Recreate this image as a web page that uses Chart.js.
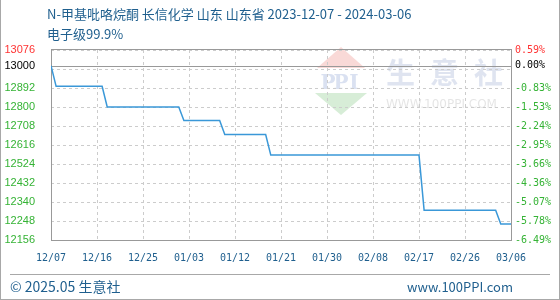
<!DOCTYPE html>
<html>
<head>
<meta charset="utf-8">
<script src="https://cdn.jsdelivr.net/npm/chart.js@4/dist/chart.umd.min.js"></script>
<style>
  html, body { margin: 0; padding: 0; background: #fff; }
  #wrap {
    position: relative; width: 560px; height: 300px; box-sizing: border-box;
    border-left: 1px solid #a8a8a8; border-right: 1px solid #a8a8a8; border-bottom: 1px solid #a8a8a8;
    overflow: hidden; font-family: "Noto Sans CJK SC", "Noto Sans", sans-serif;
  }
  #chart { position: absolute; left: 0; top: 0; }
  .txt { position: absolute; color: #1f5f8e; white-space: nowrap; line-height: 1; }
  #title1 { left: 46px; top: 7px; font-size: 13px; }
  #title2 { left: 46px; top: 27px; font-size: 13px; }
  #rule { position: absolute; left: 9px; right: 9px; top: 274px; height: 0; border-top: 1px solid #a8a8a8; }
  #foot1 { left: 9px; top: 279px; font-size: 14px; }
  #foot2 { right: 46px; top: 280px; font-size: 13px; }
</style>
</head>
<body>
<div id="wrap">
  <canvas id="chart" width="560" height="300"></canvas>
  <div class="txt" id="title1">N-甲基吡咯烷酮 长信化学 山东 山东省 2023-12-07 - 2024-03-06</div>
  <div class="txt" id="title2">电子级99.9%</div>
  <div id="rule"></div>
  <div class="txt" id="foot1">© 2025.05 生意社</div>
  <div class="txt" id="foot2">www.100PPI.com</div>
</div>
<script>
// Price change points (yuan/ton); the price holds flat between them.
const dates = ['2023-12-07', '2023-12-08', '2023-12-17', '2023-12-18', '2024-01-01', '2024-01-02',
               '2024-01-09', '2024-01-10', '2024-01-18', '2024-01-19', '2024-02-17', '2024-02-18',
               '2024-03-03', '2024-03-04', '2024-03-06'];
const prices = [13000, 12900, 12900, 12800, 12800, 12735, 12735, 12667, 12667, 12567, 12567, 12300,
                12300, 12233, 12233];

// X axis ticks (day offsets from the first date) and their labels
const xTickDays = [0, 9, 18, 27, 36, 45, 54, 63, 72, 81, 90];
const xTickLabels = ['12/07', '12/16', '12/25', '01/03', '01/12', '01/21', '01/30', '02/08', '02/17', '02/26', '03/06'];

// Y axis ticks, bottom to top; the 13000 base price gets its own tick
const yTickValues = [12156, 12248, 12340, 12432, 12524, 12616, 12708, 12800, 12892, 13000, 13076];
const yGridValues = [12156, 12248, 12340, 12432, 12524, 12616, 12708, 12800, 12892, 12984, 13076];
const leftTickLabels = ['12156', '12248', '12340', '12432', '12524', '12616', '12708', '12800', '12892', '13000', '13076'];
const rightTickLabels = ['-6.49%', '-5.78%', '-5.07%', '-4.36%', '-3.66%', '-2.95%', '-2.24%', '-1.53%', '-0.83%', '0.00%', '0.59%'];
const basePrice = 13000;

const DAY = 86400000;
const start = Date.parse(dates[0]);
const points = dates.map((d, i) => ({ x: (Date.parse(d) - start) / DAY, y: prices[i] }));

const yMin = yGridValues[0];
const yMax = yGridValues[yGridValues.length - 1];
const allY = Array.from(new Set(yGridValues.concat(yTickValues))).sort((a, b) => a - b);

const GREEN = '#35b335', RED = '#ff3333', BLACK = '#000000';
const tickColor = v => v > basePrice ? RED : (v === basePrice ? BLACK : GREEN);
const labelFor = (labels, v) => { const i = yTickValues.indexOf(v); return i < 0 ? '' : labels[i]; };

// Frame, base-price line and watermark
const decor = {
  id: 'decor',
  beforeDraw(chart) {
    const ctx = chart.ctx;
    ctx.save();
    // watermark logo
    ctx.fillStyle = 'rgba(235,120,110,0.28)';
    ctx.beginPath(); ctx.moveTo(340, 47); ctx.lineTo(364, 68); ctx.lineTo(316, 68); ctx.closePath(); ctx.fill();
    ctx.fillStyle = 'rgba(110,190,110,0.28)';
    ctx.beginPath(); ctx.moveTo(314, 93); ctx.lineTo(366, 93); ctx.lineTo(340, 115); ctx.closePath(); ctx.fill();
    ctx.fillStyle = 'rgba(150,170,215,0.35)';
    ctx.font = 'bold 20px "DejaVu Serif", serif';
    ctx.textAlign = 'center'; ctx.textBaseline = 'middle';
    ['P', 'P', 'I'].forEach((c, i) => ctx.fillText(c, 327 + i * 13, 84));
    ctx.fillStyle = 'rgba(170,185,215,0.38)';
    ctx.font = 'bold 29px "Noto Sans CJK SC", sans-serif';
    ctx.textAlign = 'left';
    ['生', '意', '社'].forEach((c, i) => ctx.fillText(c, 385 + i * 44, 73));
    ctx.fillStyle = 'rgba(190,190,190,0.4)';
    ctx.font = '12px "DejaVu Sans", sans-serif';
    ctx.fillText('WWW.100PPI.COM', 385, 105);
    ctx.restore();
  },
  beforeDatasetsDraw(chart) {
    const { ctx, chartArea: a } = chart;
    const y0 = Math.round(chart.scales.y.getPixelForValue(basePrice)) + 0.5;
    ctx.save();
    ctx.strokeStyle = '#999';
    ctx.lineWidth = 1;
    ctx.beginPath(); ctx.moveTo(a.left, y0); ctx.lineTo(a.right, y0); ctx.stroke();
    ctx.strokeRect(Math.round(a.left) + 0.5, Math.round(a.top) - 0.5, Math.round(a.right - a.left), Math.round(a.bottom - a.top) + 1);
    ctx.restore();
  }
};

new Chart(document.getElementById('chart'), {
  type: 'line',
  data: {
    datasets: [{
      data: points,
      borderColor: '#3a98d8',
      borderWidth: 1.5,
      pointRadius: 0,
      tension: 0,
      fill: false
    }]
  },
  plugins: [decor],
  options: {
    responsive: false,
    animation: false,
    events: [],
    layout: { padding: { top: 50, left: 0, right: 0, bottom: 0 } },
    plugins: { legend: { display: false }, tooltip: { enabled: false }, title: { display: false } },
    scales: {
      x: {
        type: 'linear',
        min: xTickDays[0],
        max: xTickDays[xTickDays.length - 1],
        afterBuildTicks: s => { s.ticks = xTickDays.map(v => ({ value: v })); },
        afterFit: s => { s.height = 60; },
        grid: { color: '#cccccc', drawTicks: false },
        border: { display: false, dash: [3, 3] },
        ticks: {
          autoSkip: false, maxRotation: 0, padding: 12,
          color: '#1f5f8e',
          font: { family: '"DejaVu Sans Mono", monospace', size: 10 },
          callback: (v, i) => xTickLabels[i]
        }
      },
      y: {
        position: 'left',
        min: yMin, max: yMax,
        afterBuildTicks: s => { s.ticks = allY.map(v => ({ value: v })); },
        afterFit: s => { s.width = 50; },
        grid: {
          color: c => (c.tick && yGridValues.includes(c.tick.value)) ? '#cccccc' : 'rgba(0,0,0,0)',
          drawTicks: false
        },
        border: { display: false, dash: [3, 3] },
        ticks: {
          autoSkip: false, padding: 16,
          color: c => tickColor(c.tick.value),
          font: { family: '"Liberation Sans", Arial, sans-serif', size: 11 },
          callback: v => labelFor(leftTickLabels, v)
        }
      },
      y2: {
        position: 'right',
        min: yMin, max: yMax,
        afterBuildTicks: s => { s.ticks = allY.map(v => ({ value: v })); },
        afterFit: s => { s.width = 50; },
        grid: { drawOnChartArea: false, drawTicks: false },
        border: { display: false },
        ticks: {
          autoSkip: false, padding: 4,
          color: c => tickColor(c.tick.value),
          font: { family: '"DejaVu Sans Mono", monospace', size: 10 },
          callback: v => labelFor(rightTickLabels, v)
        }
      }
    }
  }
});
</script>
</body>
</html>
